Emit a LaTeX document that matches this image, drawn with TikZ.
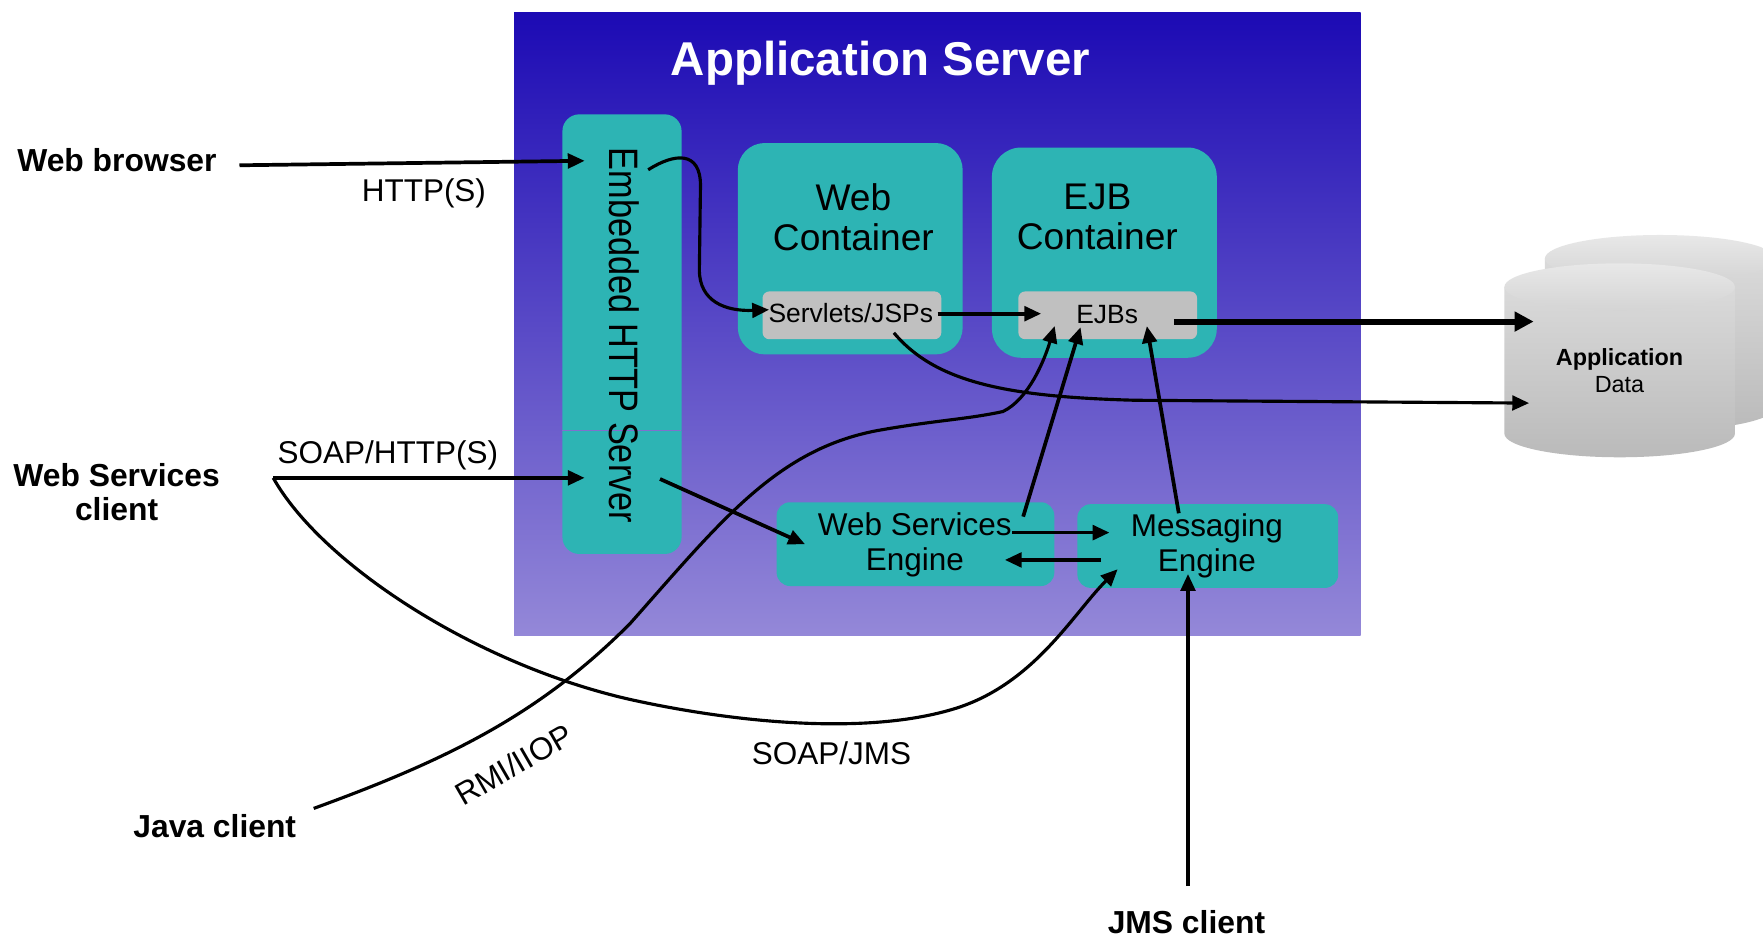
\documentclass[tikz,border=0pt]{standalone}
\usepackage{fontspec}
\setmainfont{Liberation Sans}
\usetikzlibrary{arrows.meta}
\definecolor{tealbox}{RGB}{45,180,180}
\definecolor{boxgray}{RGB}{192,192,192}
\definecolor{astop}{RGB}{28,10,180}
\definecolor{asbot}{RGB}{148,136,216}
\definecolor{seam}{RGB}{128,112,206}
\definecolor{cylA}{RGB}{218,218,218}
\definecolor{cylB}{RGB}{240,240,240}
\definecolor{cylC}{RGB}{186,186,186}
\definecolor{cyltA}{RGB}{232,232,232}
\definecolor{cyltB}{RGB}{212,212,212}
\begin{document}
\begin{tikzpicture}[x=1pt,y=-1pt,
  box/.style={fill=tealbox, draw=none, inner sep=0pt, anchor=north west},
  gbox/.style={fill=boxgray, draw=none, inner sep=0pt, anchor=north west, rounded corners=6pt},
  txt/.style={inner sep=0pt, anchor=base, align=center},
  client/.style={txt, font=\bfseries\fontsize{28.3}{29.7}\selectfont},
  proto/.style={txt, font=\fontsize{28}{31}\selectfont},
  arr/.style={line width=3.3pt, -{Triangle[length=15pt,width=13pt]}},
  carr/.style={line width=2.8pt, -{Triangle[length=15pt,width=13pt]}},
  bigarr/.style={line width=5.3pt, -{Triangle[length=17pt,width=17pt]}},
  cylbody/.style={top color=cylA, middle color=cylB, bottom color=cylC, draw=none},
  cyltop/.style={top color=cyltA, bottom color=cyltB, draw=none}
]
\useasboundingbox (0,0) rectangle (1568,834);
\fill[white] (0,0) rectangle (1568,834);

% application server background
\node[inner sep=0pt, anchor=north west, minimum width=753pt, minimum height=554.5pt,
      top color=astop, bottom color=asbot, draw=none] (appsrv) at (457,10.5) {};
\node[inner sep=0pt, anchor=base, text=white, font=\bfseries\fontsize{42.2}{50}\selectfont] (title) at (783.2,67.5) {Application Server};

% embedded HTTP server
\node[box, rounded corners=15pt, minimum width=106pt, minimum height=391pt] (ehs) at (500,101.5) {};
\coordinate (seamL) at (500,383);
\coordinate (seamR) at (606,383);
\draw[seam, line width=0.7pt] (seamL) -- (seamR);
\node[inner sep=0pt, rotate=-90, yscale=1.2, font=\fontsize{30.5}{34}\selectfont] (ehst) at (555,298.3) {Embedded HTTP Server};

% containers
\node[box, rounded corners=24pt, minimum width=200pt, minimum height=188pt] (webc) at (656,127) {};
\node[txt, font=\fontsize{33}{35.8}\selectfont] (webct) at (759,223.2) {Web\\Container};
\node[gbox, minimum width=159pt, minimum height=42.5pt] (serv) at (678,259) {};
\node[txt, font=\fontsize{23.5}{26}\selectfont] (servt) at (756.7,287) {Servlets/JSPs};

\node[box, rounded corners=26pt, minimum width=200pt, minimum height=187pt] (ejbc) at (882,131) {};
\node[txt, font=\fontsize{33}{35.5}\selectfont] (ejbct) at (976,221.8) {EJB\\Container};
\node[gbox, minimum width=159pt, minimum height=42.5pt] (ejbs) at (905.5,259) {};
\node[txt, font=\fontsize{23.5}{26}\selectfont] (ejbst) at (984.7,287.4) {EJBs};

% engines
\node[box, rounded corners=12pt, minimum width=247pt, minimum height=74.5pt] (wse) at (690.5,446.5) {};
\node[txt, font=\fontsize{28}{31}\selectfont] (wset) at (813.6,507) {Web Services\\Engine};
\node[box, rounded corners=12pt, minimum width=232pt, minimum height=74.5pt] (me) at (958,448.2) {};
\node[txt, font=\fontsize{28}{31}\selectfont] (met) at (1073.4,508.2) {Messaging\\Engine};

% database cylinders
\begin{scope}
\clip (0,0) rectangle (1568,834);
\begin{scope}[shift={(1476.5,230)}]
  \shade[cylbody] (-102.5,0) -- (-102.5,132) .. controls (-102.5,143.6) and (-56.6,153) .. (0,153)
     .. controls (56.6,153) and (102.5,143.6) .. (102.5,132) -- (102.5,0) -- cycle;
  \shade[cyltop] (0,0) ellipse [x radius=102.5pt, y radius=21pt];
\end{scope}
\begin{scope}[shift={(1440.5,255.2)}]
  \shade[cylbody] (-102.5,0) -- (-102.5,130.5) .. controls (-102.5,142.1) and (-56.6,151.5) .. (0,151.5)
     .. controls (56.6,151.5) and (102.5,142.1) .. (102.5,130.5) -- (102.5,0) -- cycle;
  \shade[cyltop] (0,0) ellipse [x radius=102.5pt, y radius=21pt];
\end{scope}
\end{scope}
\node[txt, font=\fontsize{20.8}{23.8}\selectfont] (data) at (1440.4,349) {\textbf{Application}\\Data};

% clients and protocol labels
\node[client] (wb) at (104,152.5) {Web browser};
\node[client] (wsc) at (103.7,462.5) {Web Services\\client};
\node[client] (java) at (191,745) {Java client};
\node[client] (jms) at (1055.2,830.5) {JMS client};
\node[proto] (lhttp) at (377,179) {HTTP(S)};
\node[proto] (lsoaph) at (345,412) {SOAP/HTTP(S)};
\node[proto] (lsoapj) at (739.5,679.5) {SOAP/JMS};
\node[inner sep=0pt, rotate=30, font=\fontsize{28}{31}\selectfont] (lrmi) at (457,680) {RMI/IIOP};

% connector end points
\coordinate (wbout) at (213,147);
\coordinate (ehsin1) at (520,143);
\coordinate (wscout) at (243,425);
\coordinate (ehsin2) at (520,425);
\coordinate (ehsout1) at (576.5,151);
\coordinate (servin) at (684,275.5);
\coordinate (servout) at (834,279);
\coordinate (ejbsin) at (926,279);
\coordinate (ejbsout) at (1044,286);
\coordinate (datain1) at (1364,286);
\coordinate (servout2) at (795,296);
\coordinate (datain2) at (1360,358.5);
\coordinate (ehsout2) at (587,426);
\coordinate (wsein) at (716,484);
\coordinate (wseout) at (910,459.5);
\coordinate (ejbsin2) at (961,291);
\coordinate (meout) at (1048.4,456.5);
\coordinate (ejbsin3) at (1020,290);
\coordinate (wseout2) at (900.3,473.7);
\coordinate (mein) at (986.8,473.7);
\coordinate (meout2) at (979.3,498);
\coordinate (wsein2) at (893.7,498);
\coordinate (jmsout) at (1056.6,788);
\coordinate (mein2) at (1056.6,510.5);
\coordinate (javaout) at (279,719);
\coordinate (ejbsin1) at (938,290);
\coordinate (mein1) at (994,506.3);

% connectors
\draw[arr] (wbout) -- (ehsin1);
\draw[arr] (wscout) -- (ehsin2);
\draw[carr] (ehsout1) .. controls (600,136) and (623,134) .. (623,165) -- (622,240)
   .. controls (622,268) and (645,277) .. (servin);
\draw[arr] (servout) -- (ejbsin);
\draw[bigarr] (ejbsout) -- (datain1);
\draw[carr] (servout2) .. controls (832,340) and (895,353) .. (1010,356) -- (datain2);
\draw[arr] (ehsout2) -- (wsein);
\draw[arr] (wseout) -- (ejbsin2);
\draw[arr] (meout) -- (ejbsin3);
\draw[arr] (wseout2) -- (mein);
\draw[arr] (meout2) -- (wsein2);
\draw[arr, line width=3pt] (jmsout) -- (mein2);
\draw[carr] (javaout) .. controls (400,675) and (480,635) .. (560,555)
   .. controls (640,465) and (690,400) .. (780,383)
   .. controls (830,374) and (860,373) .. (892,366)
   .. controls (915,355) and (929,320) .. (ejbsin1);
\draw[carr] (wscout) .. controls (285,500) and (420,590) .. (560,622)
   .. controls (650,642) and (770,655) .. (850,630)
   .. controls (920,608) and (955,545) .. (mein1);
\end{tikzpicture}
\end{document}
